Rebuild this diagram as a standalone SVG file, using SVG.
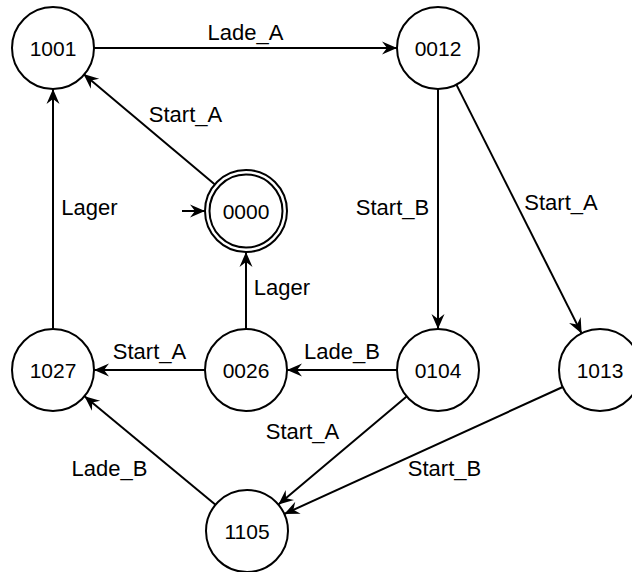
<svg xmlns="http://www.w3.org/2000/svg" width="632" height="572" viewBox="0 0 632 572">
  <style>
    .st { fill: #fff; stroke: #000; stroke-width: 2; }
    .lbl { font-family: "Liberation Sans", Arial, sans-serif; font-size: 22px; fill: #000; text-anchor: middle; }
    .nlbl { font-family: "Liberation Sans", Arial, sans-serif; font-size: 21px; fill: #000; text-anchor: middle; }
    .edge { stroke: #000; stroke-width: 2; fill: none; marker-end: url(#arr); }
  </style>
  <defs>
    <marker id="arr" markerUnits="userSpaceOnUse" markerWidth="20" markerHeight="16" viewBox="-16 -8 20 16" refX="0" refY="0" orient="auto">
      <path d="M0,0 L-15,-6.5 L-10,0 L-15,6.5 Z" fill="#000"/>
    </marker>
  </defs>
  <rect width="632" height="572" fill="#fff"/>

  <g id="connectors">
    <line class="edge" x1="94" y1="48" x2="397" y2="48"/>
    <line class="edge" x1="215.5" y1="185" x2="83.5" y2="74"/>
    <line class="edge" x1="53" y1="328.5" x2="53" y2="89"/>
    <line class="edge" x1="438" y1="89" x2="438" y2="329"/>
    <line class="edge" x1="456.4" y1="84.6" x2="581.6" y2="333.4"/>
    <line class="edge" x1="246" y1="329" x2="246" y2="252"/>
    <line class="edge" x1="397" y1="370" x2="287" y2="370"/>
    <line class="edge" x1="205" y1="370" x2="94" y2="370"/>
    <line class="edge" x1="406.6" y1="396.4" x2="278.4" y2="504.6"/>
    <line class="edge" x1="562.7" y1="387" x2="284.3" y2="514"/>
    <line class="edge" x1="215.5" y1="504.8" x2="84.5" y2="396.2"/>
    <line class="edge" x1="182" y1="211" x2="205" y2="211"/>

    <text class="lbl" x="245.5" y="40">Lade_A</text>
    <text class="lbl" x="185.5" y="122">Start_A</text>
    <text class="lbl" x="89.5" y="215">Lager</text>
    <text class="lbl" x="392.5" y="215">Start_B</text>
    <text class="lbl" x="561" y="210">Start_A</text>
    <text class="lbl" x="282" y="295">Lager</text>
    <text class="lbl" x="342" y="359">Lade_B</text>
    <text class="lbl" x="149.5" y="359">Start_A</text>
    <text class="lbl" x="302.5" y="439">Start_A</text>
    <text class="lbl" x="109.5" y="476">Lade_B</text>
    <text class="lbl" x="444.5" y="476">Start_B</text>
  </g>

  <g id="n1001"><circle class="st" cx="53" cy="48" r="41"/><text class="nlbl" x="53" y="55.5">1001</text></g>
  <g id="n0012"><circle class="st" cx="438" cy="48" r="41"/><text class="nlbl" x="438" y="55.5">0012</text></g>
  <g id="n0000"><circle class="st" cx="246" cy="211" r="41"/><circle class="st" cx="246" cy="211" r="36.5"/><text class="nlbl" x="246" y="218.5">0000</text></g>
  <g id="n1027"><circle class="st" cx="53" cy="370" r="41"/><text class="nlbl" x="53" y="377.5">1027</text></g>
  <g id="n0026"><circle class="st" cx="246" cy="370" r="41"/><text class="nlbl" x="246" y="377.5">0026</text></g>
  <g id="n0104"><circle class="st" cx="438" cy="370" r="41"/><text class="nlbl" x="438" y="377.5">0104</text></g>
  <g id="n1013"><circle class="st" cx="600" cy="370" r="41"/><text class="nlbl" x="600" y="377.5">1013</text></g>
  <g id="n1105"><circle class="st" cx="247" cy="531" r="41"/><text class="nlbl" x="247" y="538.5">1105</text></g>
</svg>
